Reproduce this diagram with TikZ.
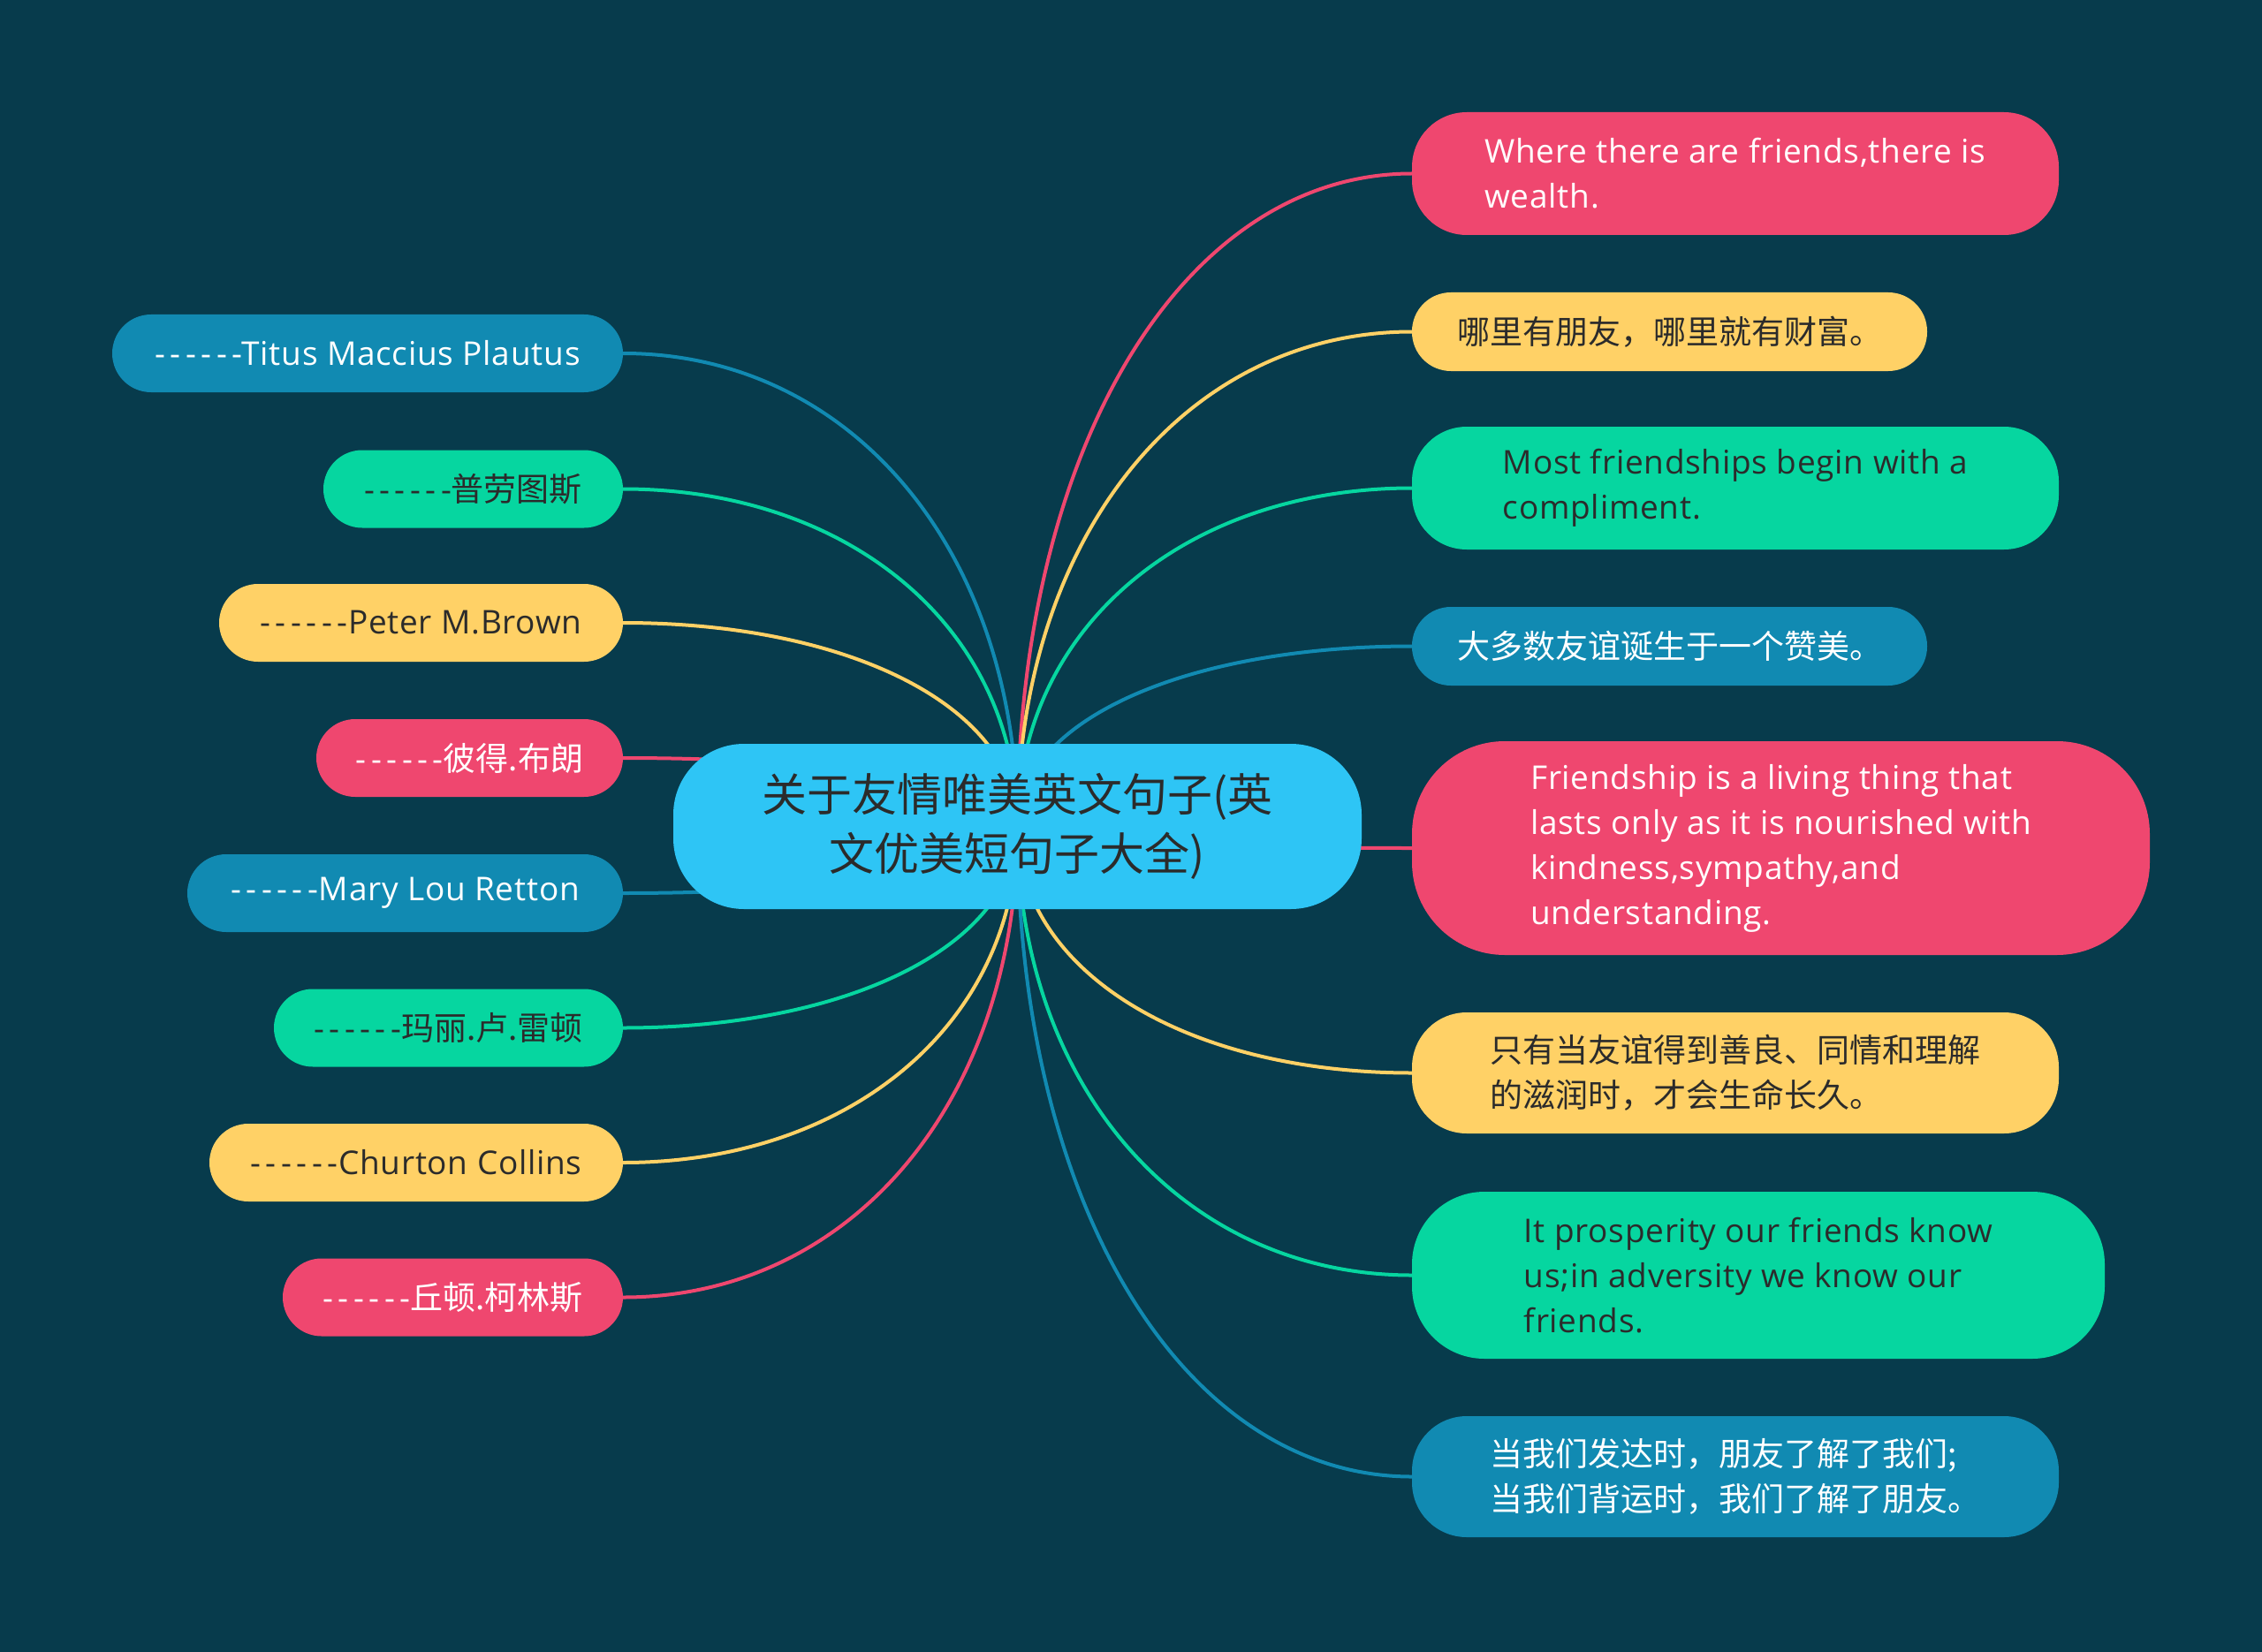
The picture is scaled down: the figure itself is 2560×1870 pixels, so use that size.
\documentclass[tikz,border=0pt]{standalone}
\usepackage{fontspec}
\setmainfont{Noto Sans CJK SC}
\newfontfamily\latinfont[LetterSpace=2]{Open Sans}
\usetikzlibrary{calc}
\definecolor{bgc}{HTML}{073B4C}
\definecolor{pinkc}{HTML}{EF476F}
\definecolor{yelc}{HTML}{FFD166}
\definecolor{grnc}{HTML}{06D6A0}
\definecolor{bluc}{HTML}{118AB2}
\definecolor{ctrc}{HTML}{2EC5F5}
\definecolor{darkc}{HTML}{2B2B2B}
\newcommand\sixdash{{\latinfont -\kern5.5pt-\kern5.5pt-\kern5.5pt-\kern5.5pt-\kern5.5pt-}}
\pgfdeclarelayer{back}
\pgfdeclarelayer{conn}
\pgfsetlayers{back,conn,main}
\begin{document}
\begin{tikzpicture}[x=1pt,y=-1pt,
  box/.style={inner sep=0pt, align=left, font=\fontsize{37}{51}\selectfont},
  lat/.style={font=\fontsize{37}{51}\selectfont\latinfont},
  pinkbox/.style={box, fill=pinkc, text=white},
  yelbox/.style={box, fill=yelc, text=darkc},
  grnbox/.style={box, fill=grnc, text=darkc},
  blubox/.style={box, fill=bluc, text=white},
  link/.style={line width=4pt, draw=#1}]
\begin{pgfonlayer}{back}
\fill[bgc] (0,0) rectangle (2560,1870);
\end{pgfonlayer}
\useasboundingbox (0,0) rectangle (2560,1870);

% central node
\node[box, fill=ctrc, text=darkc, align=center, minimum width=779pt, minimum height=187pt,
  rounded corners=80pt, font=\fontsize{51}{67}\selectfont] (c) at (1151.5,935.5)
  {关于友情唯美英文句子(英\\文优美短句子大全)};

% right nodes
\node[pinkbox, lat, minimum width=732pt, minimum height=139pt, rounded corners=62pt] (r1) at (1964,196.5)
  {Where there are friends,there is\\wealth.};
\node[yelbox, minimum width=583pt, minimum height=89pt, rounded corners=44pt] (r2) at (1889.5,375.5)
  {哪里有朋友，哪里就有财富。};
\node[grnbox, lat, minimum width=732pt, minimum height=139pt, rounded corners=62pt] (r3) at (1964,552.5)
  {Most friendships begin with a\\compliment.};
\node[blubox, minimum width=583pt, minimum height=89pt, rounded corners=44pt] (r4) at (1889.5,731.5)
  {大多数友谊诞生于一个赞美。};
\node[pinkbox, lat, minimum width=835pt, minimum height=242pt, rounded corners=105pt] (r5) at (2015.5,960)
  {Friendship is a living thing that\\lasts only as it is nourished with\\kindness,sympathy,and\\understanding.};
\node[yelbox, minimum width=732pt, minimum height=137pt, rounded corners=62pt] (r6) at (1964,1214.5)
  {只有当友谊得到善良、同情和理解\\的滋润时，才会生命长久。};
\node[grnbox, lat, minimum width=784pt, minimum height=189pt, rounded corners=82pt] (r7) at (1990,1443.5)
  {It prosperity our friends know\\us;in adversity we know our\\friends.};
\node[blubox, minimum width=732pt, minimum height=137pt, rounded corners=62pt] (r8) at (1964,1671.5)
  {当我们发达时，朋友了解了我们;\\当我们背运时，我们了解了朋友。};

% left nodes
\node[blubox, lat, minimum width=578pt, minimum height=88pt, rounded corners=44pt] (l1) at (416,400)
  {\sixdash Titus Maccius Plautus};
\node[grnbox, minimum width=339pt, minimum height=88pt, rounded corners=44pt] (l2) at (535.5,553.5)
  {\sixdash 普劳图斯};
\node[yelbox, lat, minimum width=457pt, minimum height=88pt, rounded corners=44pt] (l3) at (476.5,705)
  {\sixdash Peter M.Brown};
\node[pinkbox, minimum width=347pt, minimum height=88pt, rounded corners=44pt] (l4) at (531.5,858)
  {\sixdash 彼得.布朗};
\node[blubox, lat, minimum width=493pt, minimum height=88pt, rounded corners=44pt] (l5) at (458.5,1011)
  {\sixdash Mary Lou Retton};
\node[grnbox, minimum width=395pt, minimum height=88pt, rounded corners=44pt] (l6) at (507.5,1163.5)
  {\sixdash 玛丽.卢.雷顿};
\node[yelbox, lat, minimum width=468pt, minimum height=88pt, rounded corners=44pt] (l7) at (471,1316)
  {\sixdash Churton Collins};
\node[pinkbox, minimum width=385pt, minimum height=88pt, rounded corners=44pt] (l8) at (512.5,1468.5)
  {\sixdash 丘顿.柯林斯};

% connectors
\begin{pgfonlayer}{conn}
\foreach \n/\col in {r1/pinkc,r2/yelc,r3/grnc,r4/bluc,r5/pinkc,r6/yelc,r7/grnc,r8/bluc}{
  \coordinate (k\n) at (c.center |- \n.west);
  \draw[link=\col] (c.center) .. controls ($(c.center)!0.58!(k\n)$) and ($(\n.west)!0.58!(k\n)$) .. (\n.west);
}
\foreach \n/\col in {l1/bluc,l2/grnc,l3/yelc,l4/pinkc,l5/bluc,l6/grnc,l7/yelc,l8/pinkc}{
  \coordinate (k\n) at (c.center |- \n.east);
  \draw[link=\col] (c.center) .. controls ($(c.center)!0.58!(k\n)$) and ($(\n.east)!0.58!(k\n)$) .. (\n.east);
}
\end{pgfonlayer}
\end{tikzpicture}
\end{document}
